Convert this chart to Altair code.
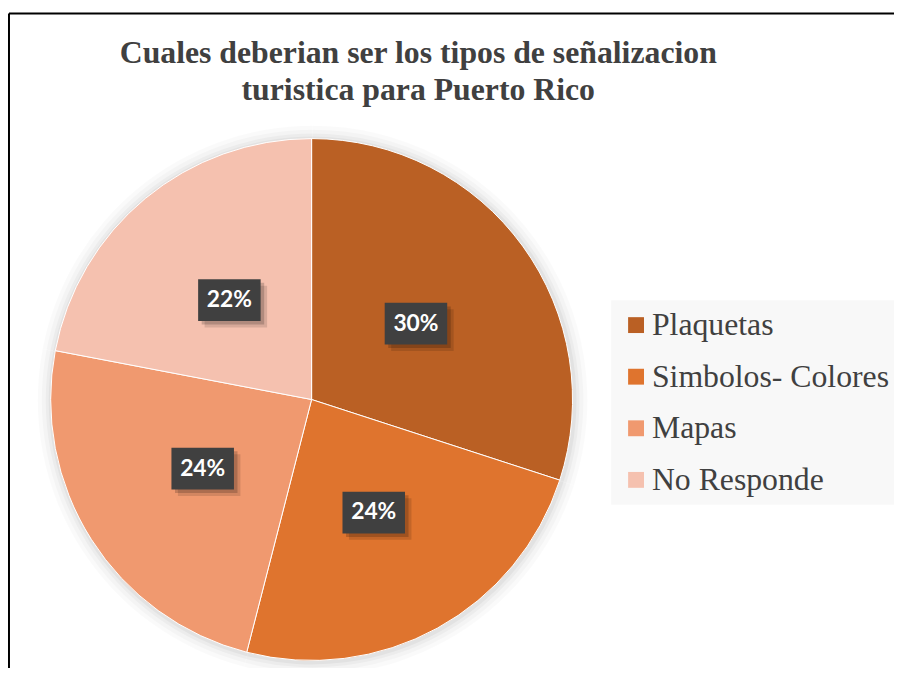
import altair as alt
import pandas as pd

categories = ["Plaquetas", "Simbolos- Colores", "Mapas", "No Responde"]
values = [30, 24, 24, 22]
labels = ["30%", "24%", "24%", "22%"]
colors = ["#BA6024", "#DF742E", "#F0996F", "#F5C1AF"]

df = pd.DataFrame({
    "category": categories,
    "value": values,
    "label": labels,
    "idx": list(range(len(categories))),
})

CX, CY, R, LR = 306, 282, 263, 130

base = (
    alt.Chart(df)
    .transform_joinaggregate(total="sum(value)")
    .transform_window(cum="sum(value)", sort=[alt.SortField("idx")])
    .transform_calculate(
        mid="2*PI*(datum.cum - datum.value/2)/datum.total",
        sx="sin(datum.mid)",
        sy="cos(datum.mid)",
    )
)
xenc = alt.X("sx:Q", scale=alt.Scale(domain=[-1, 1], range=[CX - LR, CX + LR]), axis=None)
yenc = alt.Y("sy:Q", scale=alt.Scale(domain=[-1, 1], range=[CY + LR, CY - LR]), axis=None)

# soft glow around the pie
glows = [
    alt.Chart(df).mark_arc(radius=R + d, fill="#000000", opacity=o, strokeWidth=0).encode(
        theta=alt.Theta("value:Q", stack=True),
        order=alt.Order("idx:Q"),
        x=alt.value(CX + 1),
        y=alt.value(CY + 1),
    )
    for d, o in [(14, 0.018), (10, 0.022), (6, 0.03), (3, 0.04)]
]

arc = alt.Chart(df).mark_arc(radius=R, stroke="#ffffff", strokeWidth=1).encode(
    theta=alt.Theta("value:Q", stack=True),
    color=alt.Color(
        "category:N",
        scale=alt.Scale(domain=categories, range=colors),
        legend=alt.Legend(
            title=None,
            orient="none",
            legendX=608,
            legendY=182,
            fillColor="#f8f8f8",
            padding=9,
            symbolType="square",
            symbolSize=256,
            symbolStrokeWidth=0,
            labelFont="Liberation Serif",
            labelFontSize=32,
            labelColor="#404040",
            labelOffset=0,
            rowPadding=20,
            labelLimit=400,
        ),
    ),
    order=alt.Order("idx:Q"),
    x=alt.value(CX),
    y=alt.value(CY),
)

shadow1 = base.mark_point(
    shape="M-1.19,-0.69L1.81,-0.69L1.81,1.31L-1.19,1.31Z",
    size=1764, filled=True, fill="#000000", opacity=0.12, strokeWidth=0,
).encode(x=xenc, y=yenc)

shadow2 = base.mark_point(
    shape="M-1.33,-0.83L1.67,-0.83L1.67,1.17L-1.33,1.17Z",
    size=1764, filled=True, fill="#000000", opacity=0.18, strokeWidth=0,
).encode(x=xenc, y=yenc)

box = base.mark_point(
    shape="M-1.5,-1L1.5,-1L1.5,1L-1.5,1Z",
    size=1764, filled=True, fill="#404040", opacity=1, strokeWidth=0,
).encode(x=xenc, y=yenc)

text = base.mark_text(
    font="Lato", fontWeight="bold", fontSize=23, color="#ffffff",
    align="center", baseline="middle",
).encode(x=xenc, y=yenc, text="label:N")

one = pd.DataFrame({"a": [0]})
top_rule = alt.Chart(one).mark_rule(color="#000000", strokeWidth=2).encode(
    x=alt.value(1), x2=alt.value(900), y=alt.value(-107)
)
left_rule = alt.Chart(one).mark_rule(color="#000000", strokeWidth=2).encode(
    x=alt.value(1), y=alt.value(-107), y2=alt.value(600)
)

chart = alt.layer(top_rule, left_rule, *glows, arc, shadow1, shadow2, box, text).properties(
    width=893,
    height=550,
    padding={"left": 0, "top": 110, "right": 0, "bottom": 0},
    autosize="none",
    title=alt.Title(
        text=["Cuales deberian ser los tipos de señalizacion", "turistica para Puerto Rico"],
        font="Liberation Serif",
        fontSize=32,
        fontWeight="bold",
        color="#404040",
        anchor="middle",
        frame="group",
        dx=-33,
        offset=-95,
        lineHeight=37,
    ),
).configure(background="#ffffff").configure_view(stroke=None)

chart.save("out.html", embed_options={"renderer": "svg", "actions": False})
